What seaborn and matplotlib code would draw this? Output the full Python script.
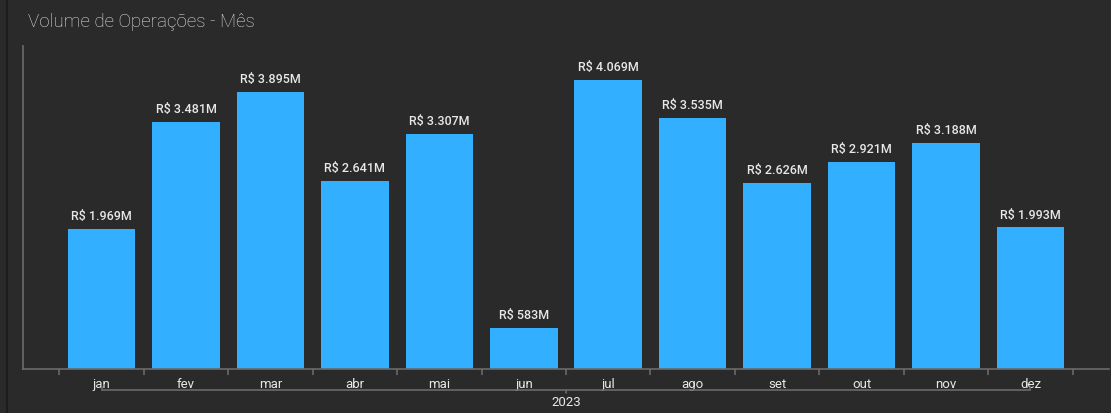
import matplotlib
matplotlib.use("Agg")
import matplotlib.pyplot as plt
import matplotlib.transforms as mtransforms
from matplotlib.lines import Line2D
import seaborn as sns
import pandas as pd

months = ["jan", "fev", "mar", "abr", "mai", "jun", "jul", "ago", "set", "out", "nov", "dez"]
values_m = [1.969, 3.481, 3.895, 2.641, 3.307, 0.583, 4.069, 3.535, 2.626, 2.921, 3.188, 1.993]
value_labels = ["R$ 1.969M", "R$ 3.481M", "R$ 3.895M", "R$ 2.641M", "R$ 3.307M", "R$ 583M",
                "R$ 4.069M", "R$ 3.535M", "R$ 2.626M", "R$ 2.921M", "R$ 3.188M", "R$ 1.993M"]
year_label = "2023"
title = "Volume de Operações - Mês"

BG = "#2a2a2a"
BAR = "#33afff"
TXT = "#e8e8e8"
AX = "#6a6a6a"

sns.set_theme(style="dark")
plt.rcParams["font.family"] = ["Roboto", "DejaVu Sans"]

W, H = 1111, 414
fig = plt.figure(figsize=(W / 100, H / 100), dpi=100, facecolor=BG)
ax = fig.add_axes([23 / W, (H - 370) / H, (1109 - 23) / W, (370 - 47) / H])
ax.set_facecolor(BG)

df = pd.DataFrame({"mes": months, "valor": values_m})
sns.barplot(data=df, x="mes", y="valor", color=BAR, saturation=1, width=0.8, ax=ax,
            edgecolor="none", linewidth=0)

ax.set_xlim(-0.93, 11.93)
ax.set_ylim(0, 4.548)
ax.bar_label(ax.containers[0], labels=value_labels, padding=5, color=TXT, fontsize=9,
             fontweight="medium")

for s in ["top", "right"]:
    ax.spines[s].set_visible(False)
for s in ["left", "bottom"]:
    ax.spines[s].set_color(AX)
    ax.spines[s].set_linewidth(1.2)
ax.set_yticks([])
ax.set_xlabel("")
ax.set_ylabel("")
ax.grid(False)

ax.set_xticks(range(len(months)))
ax.set_xticklabels(months)
ax.set_xticks([i - 0.5 for i in range(len(months) + 1)], minor=True)
ax.tick_params(axis="x", which="major", length=0, pad=6, colors=TXT, labelsize=9.5)
ax.tick_params(axis="x", which="minor", length=4.5, width=1.2, color=AX, bottom=True)

# second level axis (year)
tr = mtransforms.blended_transform_factory(ax.transData, fig.transFigure)
yl = 1 - 391 / H
ax.add_line(Line2D([0, len(months) - 1], [yl, yl], transform=tr, color=AX, lw=1.2, clip_on=False))
for xx in [0, len(months) - 1]:
    ax.add_line(Line2D([xx, xx], [yl, yl + 3 / H], transform=tr, color=AX, lw=1.2, clip_on=False))
cx = (len(months) - 1) / 2
ax.add_line(Line2D([cx, cx], [yl, yl - 3 / H], transform=tr, color=AX, lw=1.2, clip_on=False))
ax.text(cx, 1 - 403 / H, year_label, transform=tr, ha="center", va="center", color=TXT, fontsize=9.5)

# title
fig.text(28 / W, 1 - 22 / H, title, ha="left", va="center", color="#e0e0e0", fontsize=13.5,
         fontweight="light")

# left panel border
fig.add_artist(Line2D([6.5 / W, 6.5 / W], [0, 1], transform=fig.transFigure, color="#1c1c1c", lw=1.5))

fig.savefig("out.png", dpi=100, facecolor=BG)
